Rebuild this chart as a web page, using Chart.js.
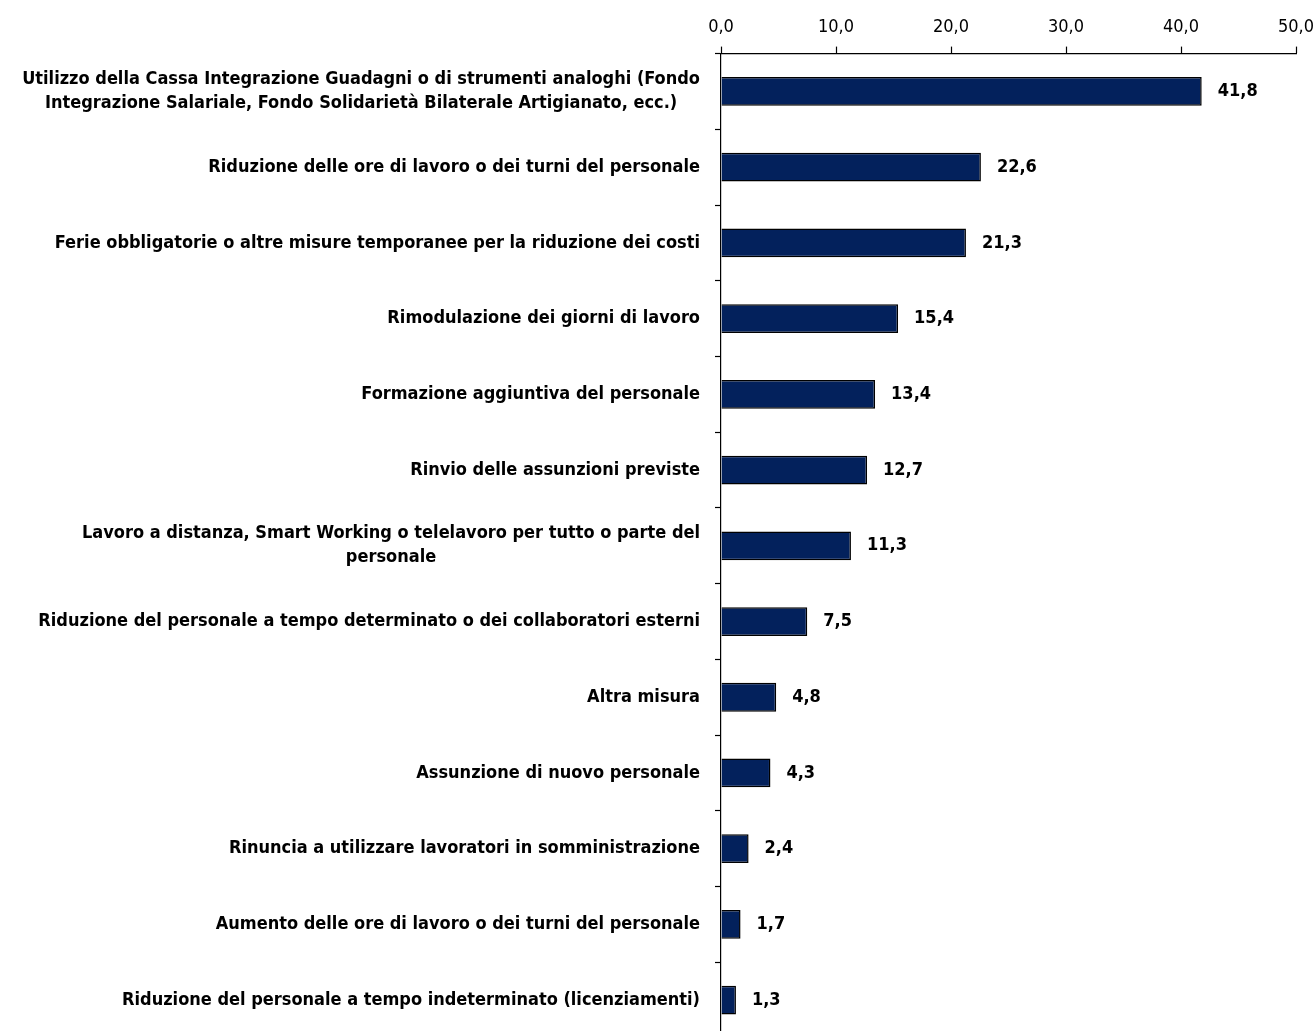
<!DOCTYPE html>
<html>
<head>
<meta charset="utf-8">
<script src="https://cdn.jsdelivr.net/npm/chart.js@4/dist/chart.umd.min.js"></script>
<style>
  html, body { margin: 0; padding: 0; background: #fff; overflow: hidden; }
  #wrap { position: relative; width: 1314px; height: 1045px; }
</style>
</head>
<body>
<div id="wrap"><canvas id="barChart"></canvas></div>
<script>
// Data
const categories = [
    ['Utilizzo della Cassa Integrazione Guadagni o di strumenti analoghi (Fondo', 'Integrazione Salariale, Fondo Solidarietà Bilaterale Artigianato, ecc.)'],
    'Riduzione delle ore di lavoro o dei turni del personale',
    'Ferie obbligatorie o altre misure temporanee per la riduzione dei costi',
    'Rimodulazione dei giorni di lavoro',
    'Formazione aggiuntiva del personale',
    'Rinvio delle assunzioni previste',
    ['Lavoro a distanza, Smart Working o telelavoro per tutto o parte del', 'personale'],
    'Riduzione del personale a tempo determinato o dei collaboratori esterni',
    'Altra misura',
    'Assunzione di nuovo personale',
    'Rinuncia a utilizzare lavoratori in somministrazione',
    'Aumento delle ore di lavoro o dei turni del personale',
    'Riduzione del personale a tempo indeterminato (licenziamenti)'
];
const values = [41.8, 22.6, 21.3, 15.4, 13.4, 12.7, 11.3, 7.5, 4.8, 4.3, 2.4, 1.7, 1.3];
const axisMin = 0;
const axisMax = 50;
const axisStep = 10;

const FONT = "'Liberation Sans Narrow', 'Arial Narrow', 'DejaVu Sans Condensed', sans-serif";
const fmt = v => v.toFixed(1).replace('.', ',');

// Category labels: right-aligned block, multi-line ones centred within the block
const categoryLabels = {
    id: 'categoryLabels',
    afterDraw(chart) {
        const ctx = chart.ctx;
        const yScale = chart.scales.y;
        const right = chart.chartArea.left - 21;
        const lineH = 24;
        ctx.save();
        ctx.font = 'bold 18px ' + FONT;
        ctx.fillStyle = '#000';
        ctx.textAlign = 'center';
        ctx.textBaseline = 'middle';
        categories.forEach((lab, i) => {
            const lines = Array.isArray(lab) ? lab : [lab];
            const w = Math.max(...lines.map(l => ctx.measureText(l).width));
            const cx = right - w / 2;
            const y0 = yScale.getPixelForValue(i) - (lines.length - 1) * lineH / 2;
            lines.forEach((l, k) => ctx.fillText(l, cx, y0 + k * lineH));
        });
        ctx.restore();
    }
};

// Value labels to the right of each bar
const valueLabels = {
    id: 'valueLabels',
    afterDatasetsDraw(chart) {
        const ctx = chart.ctx;
        const meta = chart.getDatasetMeta(0);
        ctx.save();
        ctx.font = 'bold 18px ' + FONT;
        ctx.fillStyle = '#000';
        ctx.textAlign = 'left';
        ctx.textBaseline = 'middle';
        meta.data.forEach((bar, i) => {
            ctx.fillText(fmt(values[i]), bar.x + 16, bar.y);
        });
        ctx.restore();
    }
};

function initChart() {
    const ctx = document.getElementById('barChart').getContext('2d');
    new Chart(ctx, {
        type: 'bar',
        data: {
            labels: categories.map((c, i) => i),
            datasets: [{
                data: values,
                backgroundColor: '#03215c',
                borderColor: '#000',
                borderWidth: 1.5,
                barPercentage: 0.38,
                categoryPercentage: 1
            }]
        },
        options: {
            indexAxis: 'y',
            responsive: true,
            maintainAspectRatio: false,
            animation: false,
            layout: { padding: { left: 0, top: 9, right: 18, bottom: 7 } },
            plugins: {
                legend: { display: false },
                tooltip: { enabled: false }
            },
            scales: {
                x: {
                    position: 'top',
                    min: axisMin,
                    max: axisMax,
                    ticks: {
                        stepSize: axisStep,
                        color: '#000',
                        padding: 8,
                        font: { family: FONT, size: 18 },
                        callback: v => fmt(v)
                    },
                    grid: { drawOnChartArea: false, color: '#000', tickLength: 7, tickWidth: 1.2 },
                    border: { color: '#000', width: 1.2 },
                    afterFit: s => { s.paddingRight = 0; s.paddingLeft = 0; }
                },
                y: {
                    ticks: { display: false },
                    grid: { drawOnChartArea: false, color: '#000', tickLength: 6, tickWidth: 1.2, offset: true },
                    border: { color: '#000', width: 1.2 },
                    afterFit: s => { s.width = 721; }
                }
            }
        },
        plugins: [categoryLabels, valueLabels]
    });
}

window.addEventListener('DOMContentLoaded', initChart);
</script>
</body>
</html>
